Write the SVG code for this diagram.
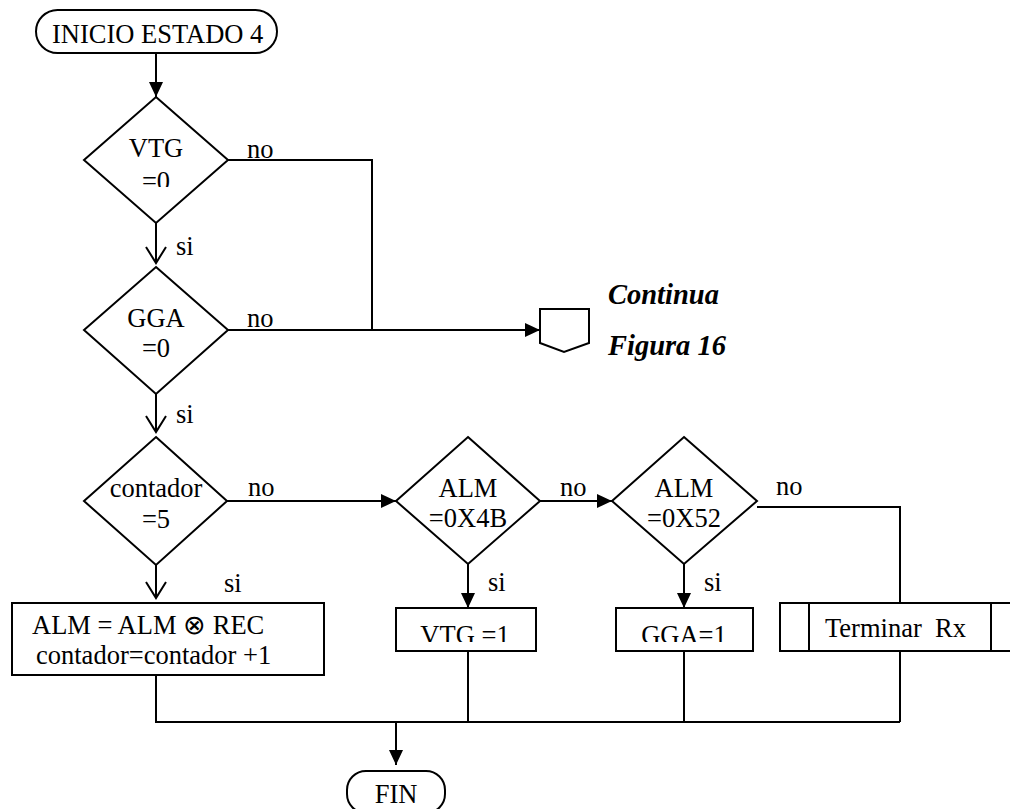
<svg xmlns="http://www.w3.org/2000/svg" width="1010" height="809" viewBox="0 0 1010 809">
  <style>
    .shape { fill: #fff; stroke: #000; stroke-width: 2; }
    .wire { fill: none; stroke: #000; stroke-width: 2; }
    text { font-family: "Liberation Serif", "Times New Roman", serif; font-size: 26.5px; fill: #000; }
    .c { text-anchor: middle; }
    .note { font-weight: bold; font-style: italic; font-size: 28.5px; }
  </style>
  <defs>
    <marker id="solid" markerUnits="userSpaceOnUse" markerWidth="15" markerHeight="14" refX="15" refY="7" orient="auto">
      <path d="M0,0 L15,7 L0,14 z" fill="#000"/>
    </marker>
    <marker id="open" markerUnits="userSpaceOnUse" markerWidth="20" markerHeight="24" refX="17" refY="11" orient="auto" overflow="visible">
      <path d="M1,1 L17,11 L1,21" fill="none" stroke="#000" stroke-width="2"/>
    </marker>
    <clipPath id="clipVtg"><rect x="100" y="120" width="120" height="67"/></clipPath>
    <clipPath id="clipSet1"><rect x="396" y="608" width="140" height="34"/></clipPath>
    <clipPath id="clipSet2"><rect x="616" y="608" width="137" height="34"/></clipPath>
  </defs>

  <!-- connectors -->
  <g id="connectors" class="wire">
    <path d="M156,53 V97" marker-end="url(#solid)"/>
    <path d="M156,223 V263" marker-end="url(#open)"/>
    <path d="M228,160 H372 V330"/>
    <path d="M228,330 H540" marker-end="url(#solid)"/>
    <path d="M156,394 V432" marker-end="url(#open)"/>
    <path d="M227,501 H396" marker-end="url(#solid)"/>
    <path d="M156,565 V598" marker-end="url(#open)"/>
    <path d="M540,501 H612" marker-end="url(#solid)"/>
    <path d="M468,564 V608" marker-end="url(#solid)"/>
    <path d="M684,564 V608" marker-end="url(#solid)"/>
    <path d="M757,507 H900 V603"/>
    <path d="M156,675 V722 H900"/>
    <path d="M468,651 V722"/>
    <path d="M684,651 V722"/>
    <path d="M900,651 V722"/>
    <path d="M396,722 V765" marker-end="url(#solid)"/>
  </g>

  <!-- branch labels -->
  <g id="labels">
    <text x="247" y="158">no</text>
    <text x="176" y="255">si</text>
    <text x="247" y="327">no</text>
    <text x="176" y="423">si</text>
    <text x="248" y="496">no</text>
    <text x="224" y="592">si</text>
    <text x="560" y="496">no</text>
    <text x="488" y="591">si</text>
    <text x="776" y="495">no</text>
    <text x="704" y="591">si</text>
  </g>

  <g id="start">
    <rect class="shape" x="36" y="10" width="241" height="43" rx="21.5"/>
    <text x="52" y="43">INICIO ESTADO 4</text>
  </g>

  <g id="check-vtg">
    <polygon class="shape" points="156,97 228,160 156,223 84,160"/>
    <text class="c" x="156" y="157">VTG</text>
    <text class="c" x="156" y="190" clip-path="url(#clipVtg)">=0</text>
  </g>

  <g id="check-gga">
    <polygon class="shape" points="156,267 228,330 156,394 84,330"/>
    <text class="c" x="156" y="327">GGA</text>
    <text class="c" x="156" y="357">=0</text>
  </g>

  <g id="offpage">
    <polygon class="shape" points="540,309 589,309 589,343 564,352 540,343"/>
    <text class="note" x="608" y="304">Continua</text>
    <text class="note" x="608" y="355">Figura 16</text>
  </g>

  <g id="check-counter">
    <polygon class="shape" points="156,437 227,501 156,565 84,501"/>
    <text class="c" x="156" y="497">contador</text>
    <text class="c" x="156" y="528">=5</text>
  </g>

  <g id="check-alm-4b">
    <polygon class="shape" points="468,437 540,501 468,564 396,501"/>
    <text class="c" x="468" y="497">ALM</text>
    <text class="c" x="468" y="527">=0X4B</text>
  </g>

  <g id="check-alm-52">
    <polygon class="shape" points="684,437 757,501 684,564 612,501"/>
    <text class="c" x="684" y="497">ALM</text>
    <text class="c" x="684" y="527">=0X52</text>
  </g>

  <g id="accumulate">
    <rect class="shape" x="12" y="603" width="312" height="72"/>
    <text x="32" y="634">ALM = ALM ⊗ REC</text>
    <text x="36" y="664">contador=contador +1</text>
  </g>

  <g id="set-vtg">
    <rect class="shape" x="396" y="608" width="140" height="43"/>
    <text class="c" x="465" y="644" clip-path="url(#clipSet1)">VTG =1</text>
  </g>

  <g id="set-gga">
    <rect class="shape" x="616" y="608" width="137" height="43"/>
    <text class="c" x="684" y="644" clip-path="url(#clipSet2)">GGA=1</text>
  </g>

  <g id="end-rx">
    <rect class="shape" x="780" y="603" width="250" height="48"/>
    <line class="wire" x1="809" y1="603" x2="809" y2="651"/>
    <line class="wire" x1="991" y1="603" x2="991" y2="651"/>
    <text x="825" y="637" xml:space="preserve">Terminar  Rx</text>
  </g>

  <g id="end">
    <rect class="shape" x="347" y="771" width="98" height="42" rx="19"/>
    <text class="c" x="396" y="803">FIN</text>
  </g>
</svg>
